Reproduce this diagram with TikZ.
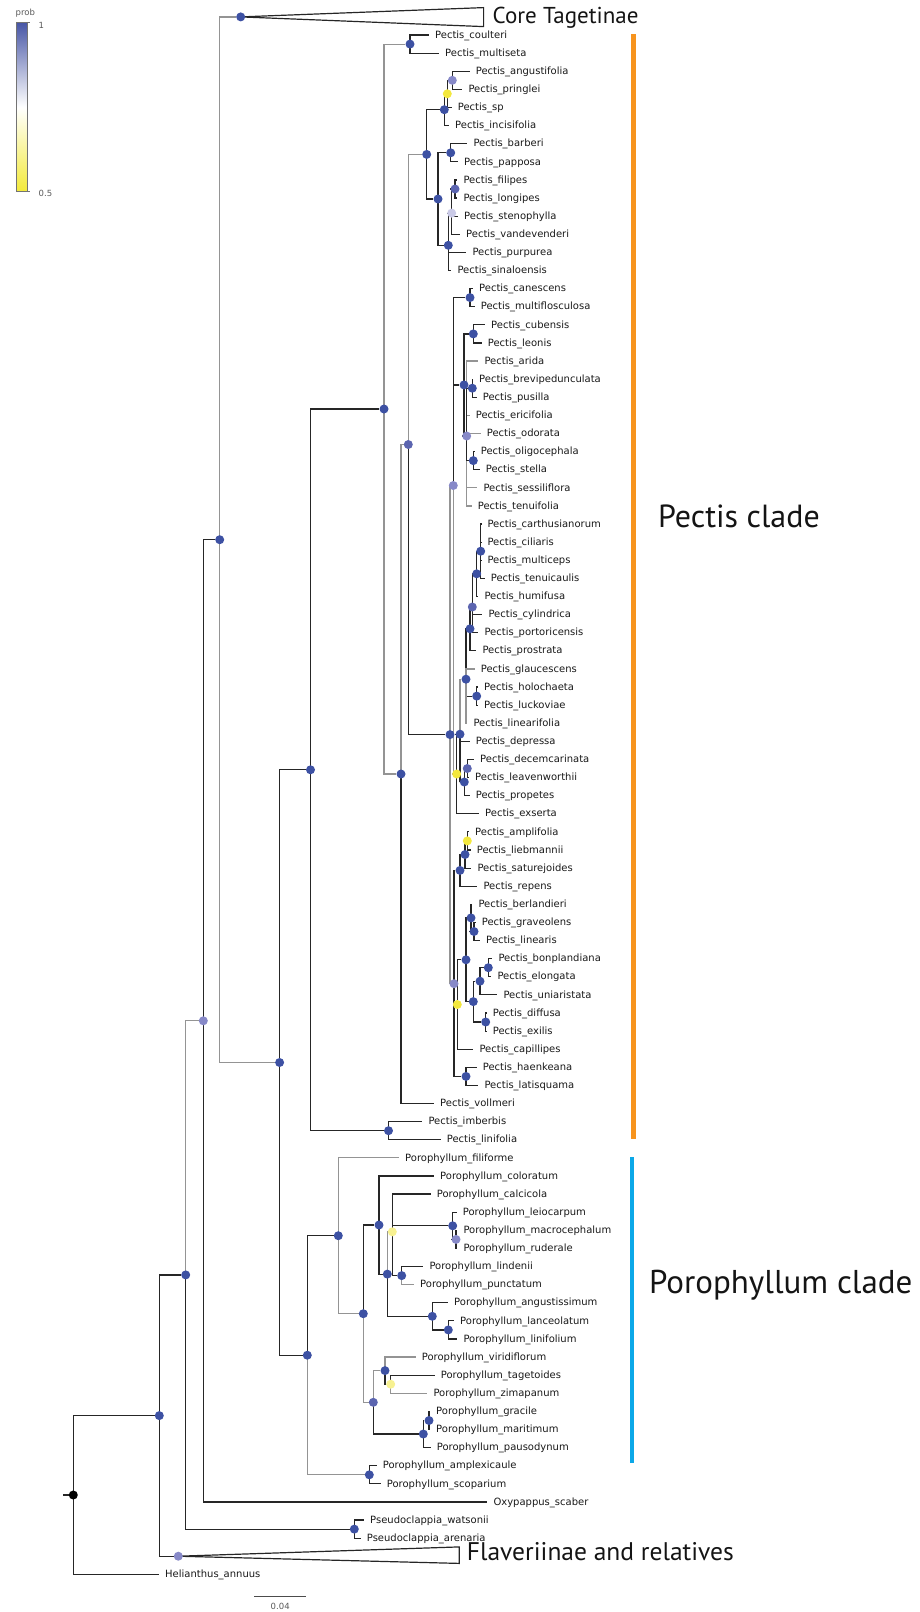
\documentclass[tikz,border=0pt]{standalone}
\usepackage{fontspec}
\setmainfont{DejaVu Sans}
\newfontfamily\cladefont{PT Sans}
\usetikzlibrary{backgrounds}

\definecolor{pblue}{RGB}{61,81,163}
\definecolor{pmid}{RGB}{92,101,176}
\definecolor{plav}{RGB}{135,137,200}
\definecolor{ppale}{RGB}{202,202,231}
\definecolor{pyel}{RGB}{243,232,62}
\definecolor{pyelpale}{RGB}{247,241,145}
\definecolor{probhi}{RGB}{72,86,166}
\definecolor{problo}{RGB}{243,234,58}
\definecolor{pectisbar}{RGB}{247,148,30}
\definecolor{porobar}{RGB}{12,168,232}

\newcommand{\tipfont}{\fontsize{10}{12}\selectfont}

\begin{document}
\begin{tikzpicture}[
    % styles
    x=1pt, y=-1pt,
    branch/.style={line width=1.2pt, black!85},
    branchg/.style={line width=1.2pt, black!42},
    pp/.style={circle, inner sep=0pt, minimum size=9pt, fill=#1},
    tip/.style={anchor=west, inner xsep=6pt, inner ysep=0pt, text height=7pt, text depth=0.6pt, font=\tipfont, text=black!90},
    clade/.style={anchor=west, inner sep=0pt, text height=0.7em, text depth=0pt, text=black!92},
    cbar/.style={line width=4.5pt, #1},
    legtext/.style={anchor=west, inner sep=0pt, font=\fontsize{8.5}{10}\selectfont, text=black!65}
]
    \useasboundingbox (0,0) rectangle (919,1612);

    % =====================================================
    % legend
    % =====================================================
    \shade[top color=probhi, bottom color=problo, middle color=white] (16,22.7) rectangle (27,191.7);
    \draw[black!55, line width=0.5pt] (16,22.7) rectangle (27,191.7);
    \draw[black!55, line width=0.5pt] (27,22.7) -- (30,22.7) (27,191.7) -- (30,191.7);
    \node[legtext] (probTitle) at (15.5,12.7) {prob};
    \node[legtext] (probHigh) at (38.5,25) {1};
    \node[legtext] (probLow) at (38.5,193.3) {0.5};

    % =====================================================
    % backbone nodes
    % =====================================================
    \node[pp=black] (nRoot) at (73.3,1495) {};
    \coordinate (rootStub) at (63.3,1495);
    \node[pp=pblue] (nA) at (159.3,1415.6) {};
    \node[pp=plav] (nFla) at (178.3,1556.2) {};
    \node[pp=pblue] (nB) at (185.7,1274.9) {};
    \node[pp=plav] (nE) at (203.3,1020.8) {};
    \node[pp=pblue] (nD) at (219.7,539.7) {};
    \node[pp=pblue] (nCore) at (240.7,16.9) {};
    \node[pp=pblue] (nF) at (279.6,1062.5) {};
    \node[pp=pblue] (nG) at (310.5,769.8) {};
    \node[pp=pblue] (nPse) at (354.3,1529.1) {};

    % =====================================================
    % Pectis nodes
    % =====================================================
    \node[pp=pblue] (nI) at (384,409) {};
    \node[pp=pblue] (nCoul) at (410,44.1) {};
    \node[pp=pblue] (nJ) at (401,774) {};
    \node[pp=pmid] (nK) at (408.3,444.5) {};
    \node[pp=pblue] (nL) at (426.7,154.4) {};
    \node[pp=pblue] (nSp) at (444.3,109.7) {};
    \node[pp=pyel] (nPri) at (447.3,93.8) {};
    \node[pp=plav] (nAng) at (452.3,80.3) {};
    \node[pp=pblue] (nN) at (438,199) {};
    \node[pp=pblue] (nBar) at (450.7,152.8) {};
    \node[pp=pblue] (nPur) at (448.3,245.3) {};
    \node[pp=ppale] (nSten) at (451.7,213.1) {};
    \node[pp=pmid] (nFil) at (455,189) {};
    \node[pp=pblue] (nM) at (450,734.6) {};
    \node[pp=plav] (nQ) at (453.3,485.5) {};
    \node[pp=pblue] (nCan) at (470,297.6) {};
    \node[pp=pblue] (nR) at (464,384.9) {};
    \node[pp=pblue] (nCub) at (473.3,333.9) {};
    \node[pp=plav] (nT) at (466.7,436) {};
    \node[pp=pblue] (nBre) at (472.3,388.2) {};
    \node[pp=pblue] (nOli) at (473.3,460.6) {};
    \node[pp=pyel] (nY1) at (456.7,774) {};
    \node[pp=pblue] (nM2) at (460,734.2) {};
    \node[pp=pblue] (nV) at (466,679.2) {};
    \node[pp=pblue] (nU4) at (470,628.8) {};
    \node[pp=pmid] (nU3) at (472.3,607) {};
    \node[pp=pblue] (nU2) at (476.7,573.8) {};
    \node[pp=pblue] (nU1) at (480.7,551.2) {};
    \node[pp=pblue] (nHol) at (476.7,696.1) {};
    \node[pp=pblue] (nPro) at (464.3,782) {};
    \node[pp=pmid] (nDec) at (467.3,768.5) {};
    \node[pp=plav] (nW) at (454,983.7) {};
    \node[pp=pblue] (nSat) at (460,870.4) {};
    \node[pp=pblue] (nLie) at (465,854.5) {};
    \node[pp=pyel] (nAmp) at (467.3,840.9) {};
    \node[pp=pyel] (nCap) at (457.3,1004.5) {};
    \node[pp=pblue] (nZ2) at (466,959.8) {};
    \node[pp=pblue] (nBer) at (471,917.9) {};
    \node[pp=pblue] (nGra) at (474,931.5) {};
    \node[pp=pblue] (nUni) at (473.3,1001.6) {};
    \node[pp=pblue] (nElo) at (480,981.2) {};
    \node[pp=pblue] (nBon) at (488.3,967.7) {};
    \node[pp=pblue] (nDif) at (485.7,1022) {};
    \node[pp=pblue] (nHae) at (466,1076.4) {};
    \node[pp=pblue] (nImb) at (388.5,1130.7) {};

    % =====================================================
    % Porophyllum nodes
    % =====================================================
    \node[pp=pblue] (nPE) at (307.3,1355.2) {};
    \node[pp=pblue] (nPD) at (338.3,1235.7) {};
    \node[pp=pblue] (nPB) at (363.3,1313.7) {};
    \node[pp=pblue] (nPA) at (379,1225) {};
    \node[pp=pblue] (nPC) at (387.3,1274.1) {};
    \node[pp=pyelpale] (nCal) at (392.3,1231.8) {};
    \node[pp=pblue] (nLei) at (452.7,1225.8) {};
    \node[pp=plav] (nRud) at (456,1239.4) {};
    \node[pp=pblue] (nLin) at (401.7,1275.6) {};
    \node[pp=pblue] (nAngu) at (432.3,1316.3) {};
    \node[pp=pblue] (nLan) at (448.3,1329.9) {};
    \node[pp=pmid] (nPF) at (373.3,1402.3) {};
    \node[pp=pblue] (nVir) at (385,1370.6) {};
    \node[pp=pyelpale] (nTag) at (390.7,1384.2) {};
    \node[pp=pblue] (nPau) at (423.3,1434) {};
    \node[pp=pblue] (nGrc) at (429,1420.5) {};
    \node[pp=pblue] (nAmx) at (369.3,1474.8) {};

    % =====================================================
    % tips
    % =====================================================
    \node[tip] (coulteri) at (429,35.0) {Pectis\_coulteri};
    \node[tip] (multiseta) at (439,53.1) {Pectis\_multiseta};
    \node[tip] (angustifolia) at (469.7,71.2) {Pectis\_angustifolia};
    \node[tip] (pringlei) at (462.3,89.3) {Pectis\_pringlei};
    \node[tip] (sp) at (451.7,107.4) {Pectis\_sp};
    \node[tip] (incisifolia) at (449,125.6) {Pectis\_incisifolia};
    \node[tip] (barberi) at (467.3,143.7) {Pectis\_barberi};
    \node[tip] (papposa) at (458,161.8) {Pectis\_papposa};
    \node[tip] (filipes) at (457.3,179.9) {Pectis\_filipes};
    \node[tip] (longipes) at (457.3,198.0) {Pectis\_longipes};
    \node[tip] (stenophylla) at (458,216.1) {Pectis\_stenophylla};
    \node[tip] (vandevenderi) at (460,234.2) {Pectis\_vandevenderi};
    \node[tip] (purpurea) at (466.3,252.3) {Pectis\_purpurea};
    \node[tip] (sinaloensis) at (451.3,270.4) {Pectis\_sinaloensis};
    \node[tip] (canescens) at (473,288.5) {Pectis\_canescens};
    \node[tip] (multiflosculosa) at (474.7,306.7) {Pectis\_multiflosculosa};
    \node[tip] (cubensis) at (485,324.8) {Pectis\_cubensis};
    \node[tip] (leonis) at (481.7,342.9) {Pectis\_leonis};
    \node[tip] (arida) at (478.3,361.0) {Pectis\_arida};
    \node[tip] (brevipedunculata) at (473,379.1) {Pectis\_brevipedunculata};
    \node[tip] (pusilla) at (476.7,397.2) {Pectis\_pusilla};
    \node[tip] (ericifolia) at (469.7,415.3) {Pectis\_ericifolia};
    \node[tip] (odorata) at (480.7,433.4) {Pectis\_odorata};
    \node[tip] (oligocephala) at (474.7,451.5) {Pectis\_oligocephala};
    \node[tip] (stella) at (479.7,469.6) {Pectis\_stella};
    \node[tip] (sessiliflora) at (477.3,487.8) {Pectis\_sessiliflora};
    \node[tip] (tenuifolia) at (471.7,505.9) {Pectis\_tenuifolia};
    \node[tip] (carthusianorum) at (481.3,524.0) {Pectis\_carthusianorum};
    \node[tip] (ciliaris) at (481.3,542.1) {Pectis\_ciliaris};
    \node[tip] (multiceps) at (481.3,560.2) {Pectis\_multiceps};
    \node[tip] (tenuicaulis) at (484.7,578.3) {Pectis\_tenuicaulis};
    \node[tip] (humifusa) at (478.3,596.4) {Pectis\_humifusa};
    \node[tip] (cylindrica) at (482.3,614.5) {Pectis\_cylindrica};
    \node[tip] (portoricensis) at (478.3,632.6) {Pectis\_portoricensis};
    \node[tip] (prostrata) at (476.3,650.7) {Pectis\_prostrata};
    \node[tip] (glaucescens) at (474.7,668.9) {Pectis\_glaucescens};
    \node[tip] (holochaeta) at (478,687.0) {Pectis\_holochaeta};
    \node[tip] (luckoviae) at (478,705.1) {Pectis\_luckoviae};
    \node[tip] (linearifolia) at (467.3,723.2) {Pectis\_linearifolia};
    \node[tip] (depressa) at (469.7,741.3) {Pectis\_depressa};
    \node[tip] (decemcarinata) at (474,759.4) {Pectis\_decemcarinata};
    \node[tip] (leavenworthii) at (469,777.5) {Pectis\_leavenworthii};
    \node[tip] (propetes) at (469.7,795.6) {Pectis\_propetes};
    \node[tip] (exserta) at (479,813.7) {Pectis\_exserta};
    \node[tip] (amplifolia) at (469,831.8) {Pectis\_amplifolia};
    \node[tip] (liebmannii) at (470.7,849.9) {Pectis\_liebmannii};
    \node[tip] (saturejoides) at (471.3,868.1) {Pectis\_saturejoides};
    \node[tip] (repens) at (477.3,886.2) {Pectis\_repens};
    \node[tip] (berlandieri) at (472.3,904.3) {Pectis\_berlandieri};
    \node[tip] (graveolens) at (475.7,922.4) {Pectis\_graveolens};
    \node[tip] (linearis) at (480,940.5) {Pectis\_linearis};
    \node[tip] (bonplandiana) at (492.3,958.6) {Pectis\_bonplandiana};
    \node[tip] (elongata) at (491.3,976.7) {Pectis\_elongata};
    \node[tip] (uniaristata) at (497.3,994.8) {Pectis\_uniaristata};
    \node[tip] (diffusa) at (486.7,1012.9) {Pectis\_diffusa};
    \node[tip] (exilis) at (486.7,1031.1) {Pectis\_exilis};
    \node[tip] (capillipes) at (473.3,1049.2) {Pectis\_capillipes};
    \node[tip] (haenkeana) at (476.7,1067.3) {Pectis\_haenkeana};
    \node[tip] (latisquama) at (478.3,1085.4) {Pectis\_latisquama};
    \node[tip] (vollmeri) at (434,1103.5) {Pectis\_vollmeri};
    \node[tip] (imberbis) at (422.3,1121.6) {Pectis\_imberbis};
    \node[tip] (linifolia) at (440.7,1139.7) {Pectis\_linifolia};
    \node[tip] (filiforme) at (399,1157.8) {Porophyllum\_filiforme};
    \node[tip] (coloratum) at (434,1175.9) {Porophyllum\_coloratum};
    \node[tip] (calcicola) at (430.7,1194.0) {Porophyllum\_calcicola};
    \node[tip] (leiocarpum) at (456.7,1212.2) {Porophyllum\_leiocarpum};
    \node[tip] (macrocephalum) at (457.3,1230.3) {Porophyllum\_macrocephalum};
    \node[tip] (ruderale) at (457.3,1248.4) {Porophyllum\_ruderale};
    \node[tip] (lindenii) at (423.3,1266.5) {Porophyllum\_lindenii};
    \node[tip] (punctatum) at (414,1284.6) {Porophyllum\_punctatum};
    \node[tip] (angustissimum) at (448,1302.7) {Porophyllum\_angustissimum};
    \node[tip] (lanceolatum) at (454,1320.8) {Porophyllum\_lanceolatum};
    \node[tip] (linifolium) at (457.3,1338.9) {Porophyllum\_linifolium};
    \node[tip] (viridiflorum) at (415.7,1357.0) {Porophyllum\_viridiflorum};
    \node[tip] (tagetoides) at (434.7,1375.1) {Porophyllum\_tagetoides};
    \node[tip] (zimapanum) at (427.3,1393.3) {Porophyllum\_zimapanum};
    \node[tip] (gracile) at (430,1411.4) {Porophyllum\_gracile};
    \node[tip] (maritimum) at (430,1429.5) {Porophyllum\_maritimum};
    \node[tip] (pausodynum) at (430.7,1447.6) {Porophyllum\_pausodynum};
    \node[tip] (amplexicaule) at (376.7,1465.7) {Porophyllum\_amplexicaule};
    \node[tip] (scoparium) at (380.7,1483.8) {Porophyllum\_scoparium};
    \node[tip] (scaber) at (487.3,1501.9) {Oxypappus\_scaber};
    \node[tip] (watsonii) at (364,1520.0) {Pseudoclappia\_watsonii};
    \node[tip] (arenaria) at (360.7,1538.1) {Pseudoclappia\_arenaria};
    \node[tip] (annuus) at (159,1574.4) {Helianthus\_annuus};

    % =====================================================
    % collapsed clades and group labels
    % =====================================================
    \coordinate (coreTop) at (483.6,7.6);
    \coordinate (coreBot) at (483.6,26.6);
    \coordinate (flaTop) at (459.3,1546.9);
    \coordinate (flaBot) at (459.3,1563.4);
    \node[clade, font=\cladefont\fontsize{23}{27}\selectfont] (coreLabel) at (492.5,19.6) {Core Tagetinae};
    \node[clade, font=\cladefont\fontsize{25.5}{30}\selectfont] (flaLabel) at (466.7,1556.7) {Flaveriinae and relatives};

    \coordinate (pectisTop) at (633.6,34);
    \coordinate (pectisBot) at (633.6,1139);
    \coordinate (poroTop) at (631.8,1157);
    \coordinate (poroBot) at (631.8,1463);
    \draw[cbar=pectisbar] (pectisTop) -- (pectisBot);
    \draw[cbar=porobar] (poroTop) -- (poroBot);
    \node[clade, font=\cladefont\fontsize{32}{36}\selectfont] (pectisLabel) at (658,524.3) {Pectis clade};
    \node[clade, font=\cladefont\fontsize{33}{37}\selectfont] (poroLabel) at (649,1290) {Porophyllum clade};

    % scale bar
    \coordinate (scaleL) at (254.3,1596.7);
    \coordinate (scaleR) at (306,1596.7);
    \draw[black!70, line width=0.8pt] (scaleL) -- (scaleR);
    \node[legtext, anchor=center] (scaleLabel) at (280.2,1606) {0.04};

    % =====================================================
    % branches
    % =====================================================
    \begin{scope}[on background layer]
    \draw[branch] (rootStub) -- (nRoot.center);
    \foreach \c in {nA, annuus} \draw[branch] (nRoot.center) |- (\c);
    \foreach \c in {nB, nFla} \draw[branch] (nA.center) |- (\c);
    \draw[branchg] (nB.center) |- (nE);
    \draw[branch] (nB.center) |- (nPse);
    \foreach \c in {nD, scaber} \draw[branch] (nE.center) |- (\c);
    \foreach \c in {nCore, nF} \draw[branchg] (nD.center) |- (\c);
    \foreach \c in {nG, nPE} \draw[branch] (nF.center) |- (\c);
    \foreach \c in {nI, nImb} \draw[branch] (nG.center) |- (\c);
    \foreach \c in {watsonii, arenaria} \draw[branch] (nPse.center) |- (\c);
    \draw[branch] (nCore.center) -- (coreTop) -- (coreBot) -- cycle;
    \draw[branch] (nFla.center) -- (flaTop) -- (flaBot) -- cycle;

    % Pectis
    \foreach \c in {nCoul, nJ} \draw[branchg] (nI.center) |- (\c);
    \foreach \c in {coulteri, multiseta} \draw[branch] (nCoul.center) |- (\c);
    \draw[branchg] (nJ.center) |- (nK);
    \draw[branch] (nJ.center) |- (vollmeri);
    \draw[branchg] (nK.center) |- (nL);
    \draw[branch] (nK.center) |- (nM);
    \foreach \c in {nSp, nN} \draw[branch] (nL.center) |- (\c);
    \foreach \c in {nPri, incisifolia} \draw[branch] (nSp.center) |- (\c);
    \foreach \c in {nAng, sp} \draw[branch] (nPri.center) |- (\c);
    \foreach \c in {angustifolia, pringlei} \draw[branch] (nAng.center) |- (\c);
    \foreach \c in {nBar, nPur} \draw[branch] (nN.center) |- (\c);
    \foreach \c in {barberi, papposa} \draw[branch] (nBar.center) |- (\c);
    \foreach \c in {nSten, purpurea, sinaloensis} \draw[branch] (nPur.center) |- (\c);
    \foreach \c in {nFil, stenophylla, vandevenderi} \draw[branch] (nSten.center) |- (\c);
    \foreach \c in {filipes, longipes} \draw[branch] (nFil.center) |- (\c);
    \foreach \c in {nQ, nW} \draw[branchg] (nM.center) |- (\c);
    \foreach \c in {nCan, nR} \draw[branch] (nQ.center) |- (\c);
    \draw[branchg] (nQ.center) |- (nY1);
    \foreach \c in {canescens, multiflosculosa} \draw[branch] (nCan.center) |- (\c);
    \foreach \c in {nCub, nT} \draw[branch] (nR.center) |- (\c);
    \foreach \c in {cubensis, leonis} \draw[branch] (nCub.center) |- (\c);
    \foreach \c in {arida, ericifolia, odorata, sessiliflora, tenuifolia} \draw[branchg] (nT.center) |- (\c);
    \foreach \c in {nBre, nOli} \draw[branch] (nT.center) |- (\c);
    \foreach \c in {brevipedunculata, pusilla} \draw[branch] (nBre.center) |- (\c);
    \foreach \c in {oligocephala, stella} \draw[branch] (nOli.center) |- (\c);
    \foreach \c in {nM2, exserta} \draw[branch] (nY1.center) |- (\c);
    \draw[branchg] (nM2.center) |- (nV);
    \foreach \c in {depressa, nPro} \draw[branch] (nM2.center) |- (\c);
    \foreach \c in {nU4, nHol} \draw[branch] (nV.center) |- (\c);
    \foreach \c in {glaucescens, linearifolia} \draw[branchg] (nV.center) |- (\c);
    \foreach \c in {nU3, prostrata} \draw[branch] (nU4.center) |- (\c);
    \foreach \c in {nU2, cylindrica, portoricensis} \draw[branch] (nU3.center) |- (\c);
    \foreach \c in {nU1, humifusa} \draw[branch] (nU2.center) |- (\c);
    \foreach \c in {carthusianorum, ciliaris, multiceps, tenuicaulis} \draw[branch] (nU1.center) |- (\c);
    \foreach \c in {holochaeta, luckoviae} \draw[branch] (nHol.center) |- (\c);
    \foreach \c in {nDec, propetes} \draw[branch] (nPro.center) |- (\c);
    \foreach \c in {decemcarinata, leavenworthii} \draw[branch] (nDec.center) |- (\c);
    \foreach \c in {nSat, nCap, nHae} \draw[branch] (nW.center) |- (\c);
    \foreach \c in {nLie, repens} \draw[branch] (nSat.center) |- (\c);
    \foreach \c in {nAmp, saturejoides} \draw[branch] (nLie.center) |- (\c);
    \foreach \c in {amplifolia, liebmannii} \draw[branch] (nAmp.center) |- (\c);
    \foreach \c in {nZ2, capillipes} \draw[branch] (nCap.center) |- (\c);
    \foreach \c in {nBer, nUni} \draw[branch] (nZ2.center) |- (\c);
    \foreach \c in {berlandieri, nGra} \draw[branch] (nBer.center) |- (\c);
    \foreach \c in {graveolens, linearis} \draw[branch] (nGra.center) |- (\c);
    \foreach \c in {nElo, nDif} \draw[branch] (nUni.center) |- (\c);
    \foreach \c in {nBon, uniaristata} \draw[branch] (nElo.center) |- (\c);
    \foreach \c in {bonplandiana, elongata} \draw[branch] (nBon.center) |- (\c);
    \foreach \c in {diffusa, exilis} \draw[branch] (nDif.center) |- (\c);
    \foreach \c in {haenkeana, latisquama} \draw[branch] (nHae.center) |- (\c);
    \foreach \c in {imberbis, linifolia} \draw[branch] (nImb.center) |- (\c);

    % Porophyllum
    \draw[branch] (nPE.center) |- (nPD);
    \draw[branchg] (nPE.center) |- (nAmx);
    \foreach \c in {filiforme, nPB} \draw[branchg] (nPD.center) |- (\c);
    \draw[branch] (nPB.center) |- (nPA);
    \draw[branchg] (nPB.center) |- (nPF);
    \foreach \c in {coloratum, nPC} \draw[branch] (nPA.center) |- (\c);
    \draw[branchg] (nPC.center) |- (nCal);
    \draw[branch] (nPC.center) |- (nAngu);
    \foreach \c in {calcicola, nLei, nLin} \draw[branch] (nCal.center) |- (\c);
    \foreach \c in {leiocarpum, nRud} \draw[branch] (nLei.center) |- (\c);
    \foreach \c in {macrocephalum, ruderale} \draw[branch] (nRud.center) |- (\c);
    \draw[branch] (nLin.center) |- (lindenii);
    \draw[branchg] (nLin.center) |- (punctatum);
    \foreach \c in {angustissimum, nLan} \draw[branch] (nAngu.center) |- (\c);
    \foreach \c in {lanceolatum, linifolium} \draw[branch] (nLan.center) |- (\c);
    \draw[branchg] (nPF.center) |- (nVir);
    \draw[branch] (nPF.center) |- (nPau);
    \draw[branchg] (nVir.center) |- (viridiflorum);
    \draw[branch] (nVir.center) |- (nTag);
    \draw[branch] (nTag.center) |- (tagetoides);
    \draw[branchg] (nTag.center) |- (zimapanum);
    \foreach \c in {nGrc, pausodynum} \draw[branch] (nPau.center) |- (\c);
    \foreach \c in {gracile, maritimum} \draw[branch] (nGrc.center) |- (\c);
    \foreach \c in {amplexicaule, scoparium} \draw[branch] (nAmx.center) |- (\c);
    \end{scope}

\end{tikzpicture}
\end{document}
